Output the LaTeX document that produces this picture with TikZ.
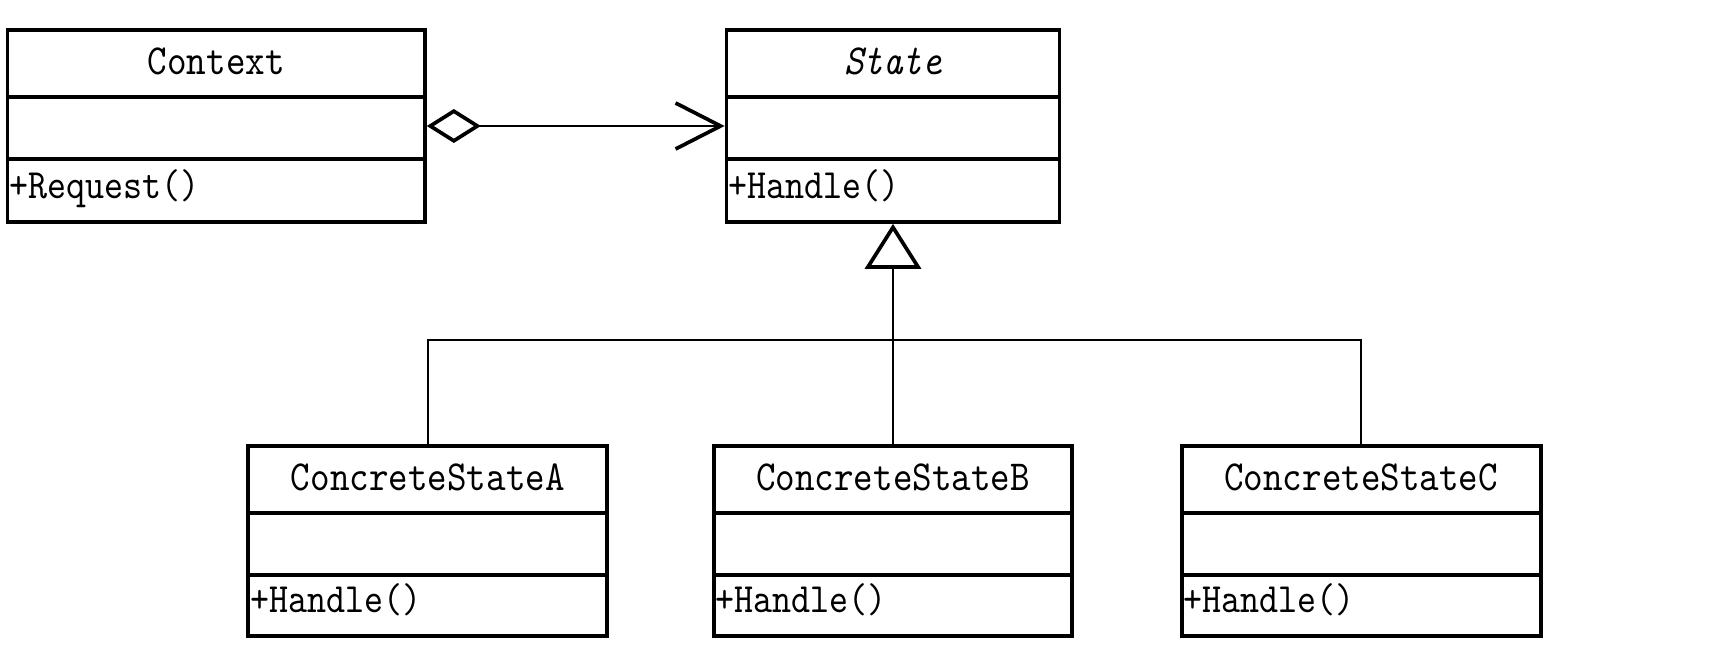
\documentclass[tikz,border=0pt]{standalone}
\usepackage{fontspec}
\usetikzlibrary{arrows.meta,positioning}
\newcommand{\umltext}[1]{\scalebox{1}[1.15]{#1}}
\tikzset{
  umlclass/.style={draw, line width=1.05pt, minimum height=1.9cm, inner sep=0pt},
  classname/.style={font=\ttfamily\fontsize{10.6}{12}\selectfont, anchor=base, inner sep=0pt},
  method/.style={font=\ttfamily\fontsize{10.3}{12}\selectfont, anchor=base west, inner sep=0pt},
  assoc/.style={line width=0.65pt},
}

\begin{document}
\begin{tikzpicture}
    \useasboundingbox (0,0) rectangle (17.22,6.49);
    % classes
    \node[umlclass, minimum width=4.175cm, minimum height=1.92cm] (context) at (2.1625,5.23) {};
    \node[umlclass, minimum width=3.33cm, minimum height=1.92cm] (state) at (8.93,5.23) {};
    \node[umlclass, minimum width=3.58cm] (csb) at (8.93,1.08) {};
    \node[umlclass, minimum width=3.59cm, left=1.03cm of csb] (csa) {};
    \node[umlclass, minimum width=3.59cm, right=1.06cm of csb] (csc) {};
    % compartments
    \foreach \c in {context,state,csa,csb,csc} {
      \draw[line width=1.05pt] ([yshift=-0.69cm]\c.north west) -- ([yshift=-0.69cm]\c.north east);
      \draw[line width=1.05pt] ([yshift=-1.31cm]\c.north west) -- ([yshift=-1.31cm]\c.north east);
    }
    \node[classname] (context-name) at ([yshift=-0.46cm]context.north) {\umltext{Context}};
    \node[method] (context-op) at ([xshift=0.03cm,yshift=-1.7cm]context.north west) {\umltext{+Request()}};
    \node[classname] (state-name) at ([yshift=-0.46cm]state.north) {\umltext{\itshape State}};
    \node[method] (state-op) at ([xshift=0.03cm,yshift=-1.7cm]state.north west) {\umltext{+Handle()}};
    \foreach \c/\t in {csa/A,csb/B,csc/C} {
      \node[classname] (\c-name) at ([yshift=-0.46cm]\c.north) {\umltext{ConcreteState\t}};
      \node[method] (\c-op) at ([xshift=0.03cm,yshift=-1.68cm]\c.north west) {\umltext{+Handle()}};
    }
    % aggregation
    \draw[assoc, {Diamond[open,length=0.54cm,width=0.34cm,line width=1.05pt]}-{Straight Barb[length=0.45cm,width=0.46cm,line width=1.05pt]}] (context) -- (state);
    % inheritance
    \coordinate (bus) at (8.93,3.09);
    \draw[assoc, -{Triangle[open,length=0.45cm,width=0.56cm,line width=1.05pt]}] (csb) -- (state);
    \draw[assoc] (csa.north) |- (bus) -| (csc.north);
\end{tikzpicture}
\end{document}
